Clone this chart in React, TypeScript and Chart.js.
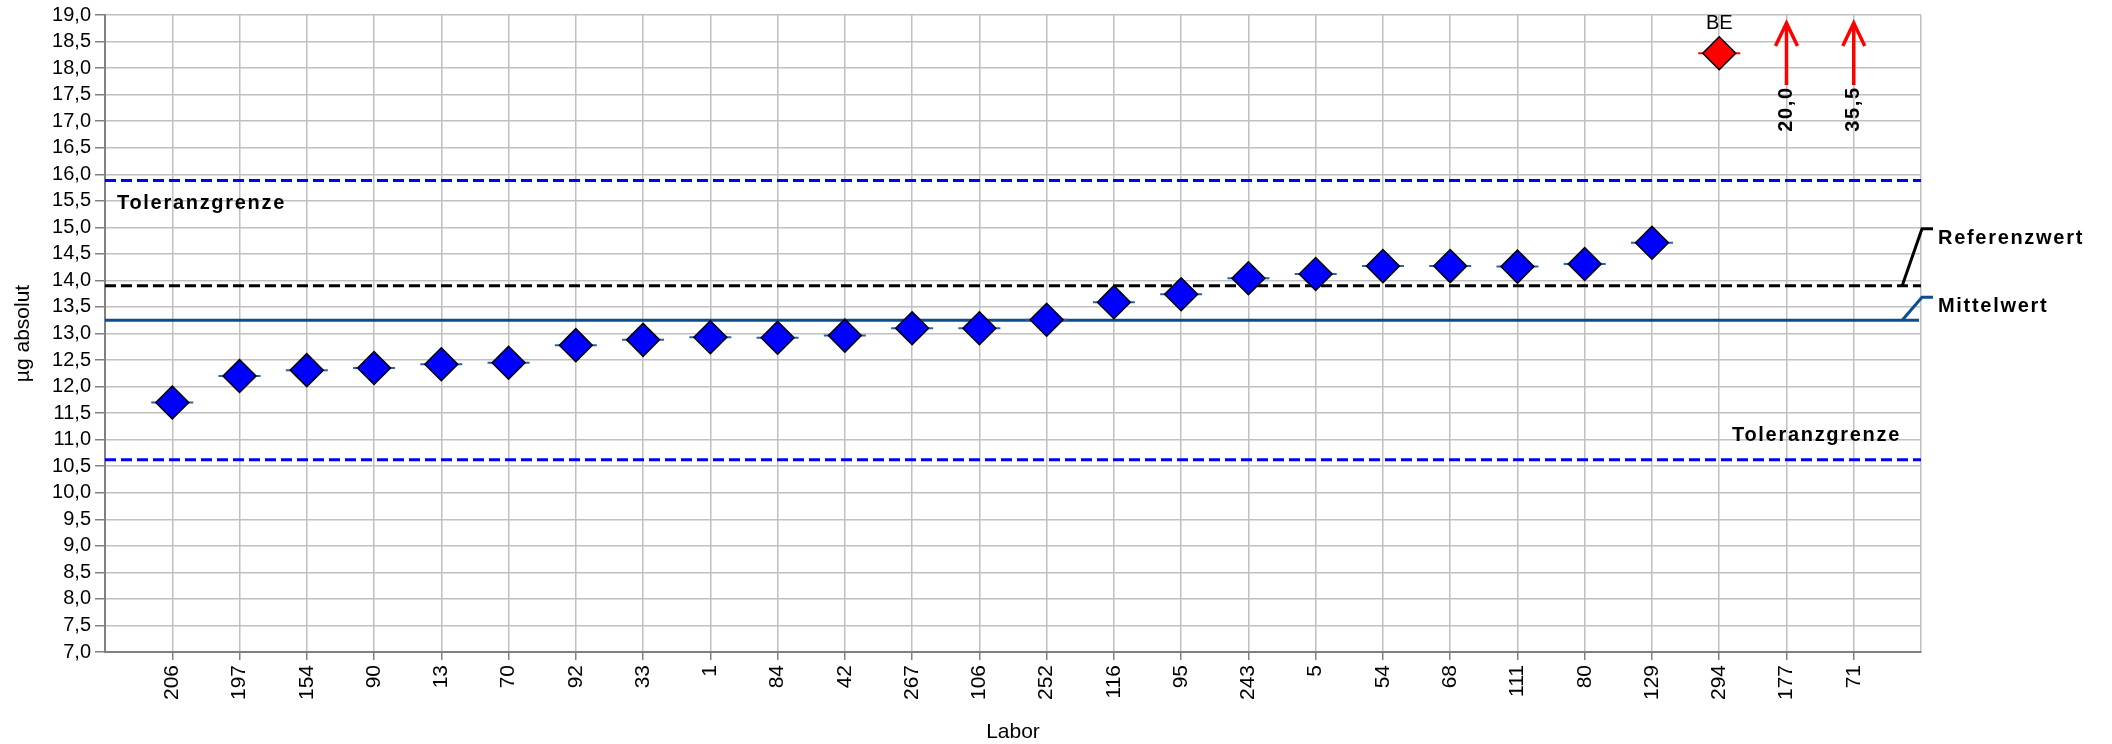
import { useEffect, useRef } from 'react';
import { Chart, registerables } from 'chart.js';

Chart.register(...registerables);

// Laboratory codes in plotting order
const labs = [
  '206', '197', '154', '90', '13', '70', '92', '33', '1', '84', '42', '267', '106',
  '252', '116', '95', '243', '5', '54', '68', '111', '80', '129', '294', '177', '71',
];

// Reported results (µg absolut) for labs 206 … 129
const results = [
  11.70, 12.20, 12.31, 12.35, 12.42, 12.45, 12.78, 12.88, 12.93, 12.92, 12.96, 13.10,
  13.10, 13.26, 13.59, 13.74, 14.04, 14.12, 14.27, 14.27, 14.26, 14.31, 14.71,
];

// Flagged result (lab 294) and its remark
const flaggedResults = [18.28];
const flaggedTags = ['BE'];

// Results beyond the axis range (labs 177, 71)
const offScaleResults = [20.0, 35.5];

// Reference lines
const tolUpper = 15.88;
const tolLower = 10.62;
const refValue = 13.9;
const meanValue = 13.25;

const FONT = '"Liberation Sans", Arial, sans-serif';
const fmt = (v: number) => v.toFixed(1).replace('.', ',');

export default function App() {
  const canvasRef = useRef<HTMLCanvasElement>(null);

  useEffect(() => {
    const n = labs.length;
    const resultPts = results.map((v, i) => ({ x: i + 1, y: v }));
    const flagStart = results.length;
    const flaggedPts = flaggedResults.map((v, i) => ({ x: flagStart + i + 1, y: v }));
    const offStart = results.length + flaggedResults.length;
    const hLine = (v: number, end = n + 1) => [
      { x: 0, y: v },
      { x: end, y: v },
    ];

    const annotations = {
      id: 'annotations',
      afterDraw(chart: any) {
        const { ctx, chartArea: a, scales } = chart;
        const x = scales.x;
        const y = scales.y;
        ctx.save();

        // tolerance labels
        ctx.fillStyle = '#000';
        ctx.font = `bold 20px ${FONT}`;
        ctx.letterSpacing = '1.7px';
        ctx.textBaseline = 'alphabetic';
        ctx.textAlign = 'left';
        ctx.fillText('Toleranzgrenze', a.left + 12, y.getPixelForValue(tolUpper) + 28);
        ctx.textAlign = 'right';
        ctx.fillText('Toleranzgrenze', a.right - 20, y.getPixelForValue(tolLower) - 19);

        // leader lines to the right-hand labels
        const leaderX = x.getPixelForValue(n + 0.72);
        const drawLeader = (val: number, color: string, lift: number, text: string, base: number) => {
          const py = y.getPixelForValue(val);
          ctx.strokeStyle = color;
          ctx.lineWidth = 3;
          ctx.setLineDash([]);
          ctx.beginPath();
          ctx.moveTo(leaderX, py);
          ctx.lineTo(a.right + 1, py - lift);
          ctx.lineTo(a.right + 12, py - lift);
          ctx.stroke();
          ctx.fillStyle = '#000';
          ctx.textAlign = 'left';
          ctx.fillText(text, a.right + 17, py + base);
        };
        drawLeader(refValue, '#000', 57, 'Referenzwert', -42);
        drawLeader(meanValue, '#0b4d8f', 23, 'Mittelwert', -8);

        // arrows for results above the axis range
        offScaleResults.forEach((v, i) => {
          const px = x.getPixelForValue(offStart + i + 1);
          const tip = y.getPixelForValue(18.85);
          const base = y.getPixelForValue(17.68);
          ctx.strokeStyle = '#ff0000';
          ctx.lineWidth = 3.5;
          ctx.beginPath();
          ctx.moveTo(px, base);
          ctx.lineTo(px, tip);
          ctx.stroke();
          ctx.beginPath();
          ctx.moveTo(px - 11, tip + 23);
          ctx.lineTo(px, tip);
          ctx.lineTo(px + 11, tip + 23);
          ctx.stroke();
          ctx.save();
          ctx.translate(px, base + 1);
          ctx.rotate(-Math.PI / 2);
          ctx.fillStyle = '#000';
          ctx.textAlign = 'right';
          ctx.textBaseline = 'middle';
          ctx.fillText(fmt(v), 0, 0);
          ctx.restore();
        });

        // remark above flagged result
        ctx.letterSpacing = '0px';
        ctx.font = `20px ${FONT}`;
        ctx.fillStyle = '#000';
        ctx.textAlign = 'center';
        ctx.textBaseline = 'alphabetic';
        flaggedResults.forEach((v, i) => {
          const px = x.getPixelForValue(flagStart + i + 1);
          ctx.fillText(flaggedTags[i], px, y.getPixelForValue(v) - 24);
        });

        // axis titles
        ctx.font = `21px ${FONT}`;
        ctx.textAlign = 'center';
        ctx.fillText('Labor', (a.left + a.right) / 2, 738);
        ctx.save();
        ctx.translate(29, (a.top + a.bottom) / 2);
        ctx.rotate(-Math.PI / 2);
        ctx.fillText('µg absolut', 0, 0);
        ctx.restore();

        ctx.restore();
      },
    };

    const lineDs = (data: any[], color: string, dash: number[], order: number) => ({
      data,
      showLine: true,
      borderColor: color,
      borderWidth: 3,
      borderDash: dash,
      pointRadius: 0,
      order,
    });

    const chart = new Chart(canvasRef.current!, {
      type: 'scatter',
      data: {
        datasets: [
          {
            data: resultPts,
            pointStyle: 'rectRot',
            pointRadius: 16.5,
            pointBackgroundColor: '#0000ff',
            pointBorderColor: '#000',
            pointBorderWidth: 1.5,
            order: 1,
          },
          {
            data: flaggedPts,
            pointStyle: 'rectRot',
            pointRadius: 16.5,
            pointBackgroundColor: '#ff0000',
            pointBorderColor: '#000',
            pointBorderWidth: 1.5,
            order: 1,
          },
          {
            data: resultPts,
            pointStyle: 'line',
            pointRadius: 21,
            pointBorderColor: '#2b62a8',
            pointBorderWidth: 2,
            order: 2,
          },
          {
            data: flaggedPts,
            pointStyle: 'line',
            pointRadius: 21,
            pointBorderColor: '#ff0000',
            pointBorderWidth: 2,
            order: 2,
          },
          lineDs(hLine(tolUpper), '#0000ff', [11, 5], 3),
          lineDs(hLine(tolLower), '#0000ff', [11, 5], 3),
          lineDs(hLine(refValue), '#000000', [11, 5], 3),
          lineDs(hLine(meanValue, n + 0.97), '#0b4d8f', [], 4),
        ] as any,
      },
      options: {
        animation: false,
        responsive: false,
        events: [],
        layout: { autoPadding: false, padding: { top: 15, right: 191, bottom: 0, left: 0 } },
        plugins: { legend: { display: false }, tooltip: { enabled: false } },
        scales: {
          x: {
            type: 'linear',
            min: 0,
            max: n + 1,
            afterFit: (s: any) => {
              s.height = 92;
            },
            grid: {
              color: (c: any) => (c.tick && c.tick.value > 0 ? '#c0c0c0' : 'transparent'),
              lineWidth: 1.5,
              tickLength: 8,
              tickColor: (c: any) =>
                c.tick && c.tick.value >= 1 && c.tick.value <= n ? '#808080' : 'transparent',
            },
            border: { color: '#808080', width: 2 },
            ticks: {
              stepSize: 1,
              autoSkip: false,
              maxRotation: 90,
              minRotation: 90,
              padding: 5,
              color: '#000',
              font: { family: FONT, size: 21 },
              callback: (v: any) => labs[Number(v) - 1] ?? '',
            },
          },
          y: {
            min: 7,
            max: 19,
            afterFit: (s: any) => {
              s.width = 105;
            },
            grid: { color: '#c0c0c0', lineWidth: 1.5, tickLength: 10, tickColor: '#808080' },
            border: { color: '#808080', width: 2 },
            ticks: {
              stepSize: 0.5,
              padding: 4,
              color: '#000',
              font: { family: FONT, size: 20, lineHeight: 1 },
              callback: (v: any) => fmt(Number(v)),
            },
          },
        },
      },
      plugins: [annotations],
    });

    return () => chart.destroy();
  }, []);

  return (
    <div style={{ position: 'absolute', left: 0, top: 0, width: 2112, height: 744, background: '#fff' }}>
      <canvas ref={canvasRef} width={2112} height={744} style={{ display: 'block' }} />
    </div>
  );
}
